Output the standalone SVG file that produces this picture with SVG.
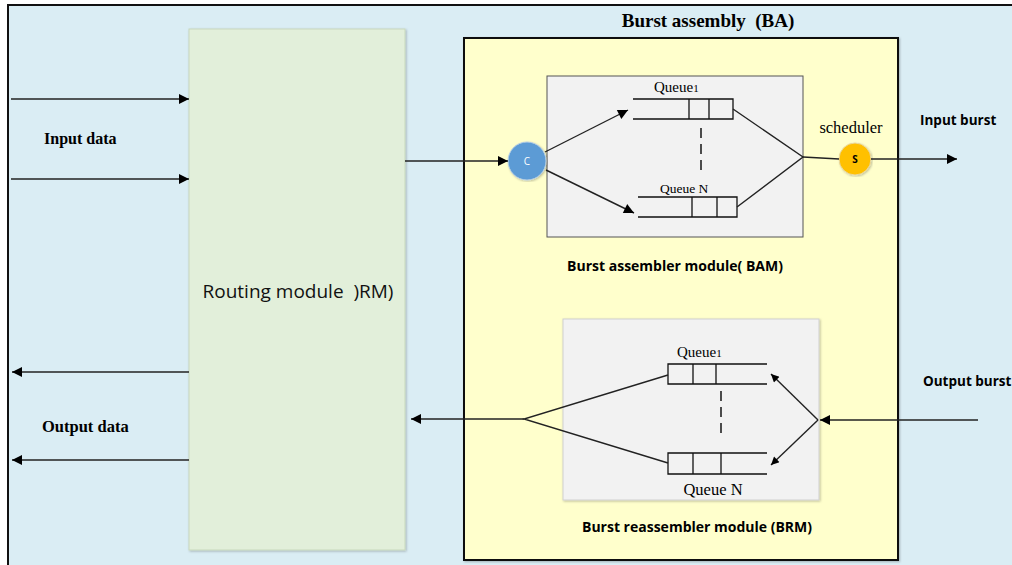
<svg xmlns="http://www.w3.org/2000/svg" width="1012" height="565" viewBox="0 0 1012 565">
<defs>
<marker id="ah" viewBox="0 0 10 10" refX="10" refY="5" markerWidth="10" markerHeight="8" markerUnits="userSpaceOnUse" orient="auto"><path d="M0,0 L10,5 L0,10 z" fill="#000"/></marker>
<marker id="ahl" viewBox="0 0 10 10" refX="10" refY="5" markerWidth="14" markerHeight="10" markerUnits="userSpaceOnUse" orient="auto"><path d="M0,0 L10,5 L0,10 z" fill="#000"/></marker>
<filter id="sh" x="-5%" y="-5%" width="110%" height="110%"><feDropShadow dx="1" dy="1" stdDeviation="1.2" flood-color="#000" flood-opacity="0.25"/></filter>
</defs>
<style>
text{white-space:pre}
.ln{stroke:#222;stroke-width:1.4;fill:none}
.q{stroke:#111;stroke-width:1.3;fill:none}
.dash{stroke:#222;stroke-width:1.6;stroke-dasharray:10,6}
.bs{font-family:"Liberation Serif",serif;font-weight:bold;fill:#000}
.sr{font-family:"Liberation Serif",serif;fill:#000}
.ss{font-family:"Open Sans","Liberation Sans",sans-serif;font-weight:bold;fill:#000}
</style>
<rect x="0" y="0" width="1012" height="565" fill="#ffffff"/>
<g id="outer">
<rect x="8" y="5" width="1020" height="580" fill="#daedf4" stroke="#111" stroke-width="2"/>
</g>
<g id="routing">
<rect x="189" y="29" width="216" height="521" fill="#e2efda" stroke="#c8d8bd" stroke-width="1" filter="url(#sh)"/>
<text x="298" y="298" font-family="Open Sans, Liberation Sans, sans-serif" font-size="19" text-anchor="middle" fill="#111" xml:space="preserve">Routing module  )RM)</text>
</g>
<g id="ba">
<rect x="464" y="38" width="434" height="522" fill="#ffffcc" stroke="#111" stroke-width="2" filter="url(#sh)"/>
<text class="bs" x="708" y="27" font-size="19" text-anchor="middle" xml:space="preserve">Burst assembly  (BA)</text>
</g>
<g id="bam">
<rect x="547" y="76" width="256" height="161" fill="#f2f2f2" stroke="#555" stroke-width="1"/>
<text class="ss" x="675" y="271" font-size="14" text-anchor="middle">Burst assembler module( BAM)</text>
</g>
<g id="bam-queue1">
<path class="q" d="M633,99 H733 V119 H633 M689,99 V119 M709,99 V119"/>
<text class="sr" x="654" y="92" font-size="15">Queue<tspan font-size="11">1</tspan></text>
</g>
<g id="bam-queueN">
<path class="q" d="M638,197 H737 V217 H638 M692,197 V217 M717,197 V217"/>
<text class="sr" x="660" y="193" font-size="13.5">Queue N</text>
</g>
<g id="brm">
<rect x="563" y="319" width="256" height="181" fill="#f2f2f2" stroke="#d0d0d0" stroke-width="1" filter="url(#sh)"/>
<text class="ss" x="697" y="532" font-size="14" text-anchor="middle">Burst reassembler module (BRM)</text>
</g>
<g id="brm-queue1">
<path class="q" d="M767,364 H668 V384 H767 M693,364 V384 M716,364 V384"/>
<text class="sr" x="677" y="357" font-size="15">Queue<tspan font-size="11">1</tspan></text>
</g>
<g id="brm-queueN">
<path class="q" d="M767,453 H668 V474 H767 M693,453 V474 M721,453 V474"/>
<text class="sr" x="713" y="495" font-size="16.5" text-anchor="middle">Queue N</text>
</g>
<g id="classifier">
<circle cx="527" cy="161" r="19" fill="#5b9bd5" stroke="#b8cfe6" stroke-width="1" filter="url(#sh)"/>
<text x="527" y="165" font-family="Open Sans, Liberation Sans, sans-serif" font-size="10" fill="#fff" text-anchor="middle">C</text>
</g>
<g id="scheduler">
<circle cx="855" cy="159" r="16" fill="#ffc000" stroke="#e8d7a0" stroke-width="1" filter="url(#sh)"/>
<text x="855" y="163" font-family="Open Sans, Liberation Sans, sans-serif" font-size="10" font-weight="bold" fill="#000" text-anchor="middle">S</text>
<text class="sr" x="851" y="133" font-size="16.5" text-anchor="middle">scheduler</text>
</g>
<g id="labels">
<text class="bs" x="44" y="144" font-size="16">Input data</text>
<text class="bs" x="42" y="432" font-size="16.5">Output data</text>
<text class="ss" x="920" y="125" font-size="13.5">Input burst</text>
<text class="ss" x="923" y="386" font-size="13.5">Output burst</text>
</g>
<g id="connectors">
<line class="ln" x1="11" y1="99" x2="189" y2="99" marker-end="url(#ahl)"/>
<line class="ln" x1="11" y1="179" x2="189" y2="179" marker-end="url(#ahl)"/>
<line class="ln" x1="189" y1="372" x2="12" y2="372" marker-end="url(#ahl)"/>
<line class="ln" x1="189" y1="460" x2="12" y2="460" marker-end="url(#ahl)"/>
<line class="ln" x1="405" y1="161" x2="508" y2="161" marker-end="url(#ahl)"/>
<line class="ln" x1="545" y1="152" x2="628" y2="110" marker-end="url(#ahl)"/>
<line class="ln" x1="546" y1="170" x2="634" y2="213" marker-end="url(#ahl)"/>
<polyline class="ln" points="733,109 803,157 737,207"/>
<line class="ln" x1="803" y1="157" x2="839" y2="159"/>
<line class="ln" x1="871" y1="159" x2="957" y2="159" marker-end="url(#ahl)"/>
<line class="dash" x1="701" y1="128" x2="701" y2="173"/>
<line class="dash" x1="721" y1="391" x2="721" y2="435"/>
<polyline class="ln" points="668,375 524,419 668,463"/>
<line class="ln" x1="524" y1="419" x2="411" y2="419" marker-end="url(#ahl)"/>
<line class="ln" x1="978" y1="420" x2="820" y2="420" marker-end="url(#ahl)"/>
<line class="ln" x1="818" y1="420" x2="771" y2="374" marker-end="url(#ah)"/>
<line class="ln" x1="818" y1="420" x2="771" y2="465" marker-end="url(#ah)"/>
</g>
</svg>
